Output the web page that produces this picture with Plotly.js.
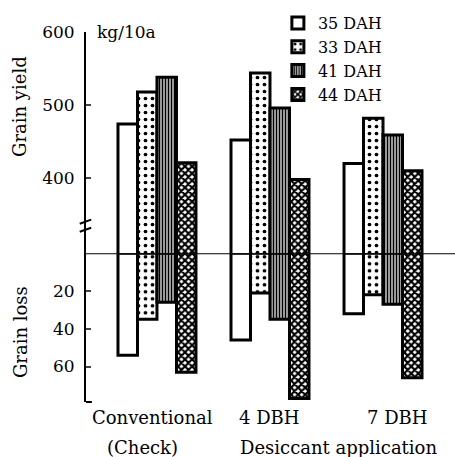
<!DOCTYPE html>
<html><head><meta charset="utf-8">
<script src="https://cdn.plot.ly/plotly-3.0.1.min.js"></script>
<style>html,body{margin:0;padding:0;background:#fff}</style>
</head><body><div id="chart" style="width:455px;height:457px"></div>
<script>
// ---- data ----
var groups = [0, 1, 2];
var groupLabels = ['Conventional', '4 DBH', '7 DBH'];
var seriesNames = ['35 DAH', '33 DAH', '41 DAH', '44 DAH'];
var yield35 = [474, 452, 420];
var yield33 = [518, 544, 482];
var yield41 = [538, 496, 459];
var yield44 = [421, 398, 410];
var loss35 = [54, 46, 32];
var loss33 = [35, 21, 22];
var loss41 = [26, 35, 27];
var loss44 = [63, 77, 66];
var yieldTicks = [400, 500, 600];
var lossTicks = [20, 40, 60];

var yields = [yield35, yield33, yield41, yield44];
var losses = [loss35, loss33, loss41, loss44];

var patterns = [
  {shape: '', fillmode: 'replace'},
  {shape: '.', fgcolor: '#000', bgcolor: '#fff', size: 7, solidity: 0.22, fillmode: 'replace'},
  {shape: '|', fgcolor: '#000', bgcolor: '#fff', size: 3, solidity: 0.6, fillmode: 'replace'},
  {shape: 'x', fgcolor: '#000', bgcolor: '#fff', size: 5, solidity: 0.65, fillmode: 'replace'}
];

var traces = [];
for (var i = 0; i < 4; i++) {
  traces.push({
    type: 'bar', x: groups, y: yields[i], name: seriesNames[i],
    xaxis: 'x', yaxis: 'y', legendgroup: 's' + i, showlegend: true,
    marker: {color: '#fff', line: {color: '#000', width: 3}, pattern: patterns[i]},
    hoverinfo: 'skip'
  });
}
for (var j = 0; j < 4; j++) {
  traces.push({
    type: 'bar', x: groups, y: losses[j], name: seriesNames[j],
    xaxis: 'x', yaxis: 'y2', legendgroup: 's' + j, showlegend: false,
    marker: {color: '#fff', line: {color: '#000', width: 3}, pattern: patterns[j]},
    hoverinfo: 'skip'
  });
}

var F = 'DejaVu Serif';
var lowerFrac = 0.402;

var annotations = [
  {text: 'kg/10a', xref: 'paper', yref: 'y', x: 0.025, y: 600, xanchor: 'left', yanchor: 'middle', showarrow: false, font: {family: F, size: 17, color: '#000'}},
  {text: 'Grain yield', xref: 'paper', yref: 'paper', x: -0.179, y: 0.80, textangle: -90, xanchor: 'center', yanchor: 'middle', showarrow: false, font: {family: F, size: 18, color: '#000'}},
  {text: 'Grain loss', xref: 'paper', yref: 'paper', x: -0.179, y: 0.189, textangle: -90, xanchor: 'center', yanchor: 'middle', showarrow: false, font: {family: F, size: 18, color: '#000'}},
  {text: groupLabels[0], xref: 'x', yref: 'paper', x: -0.04, y: -0.043, xanchor: 'center', yanchor: 'middle', showarrow: false, font: {family: F, size: 18, color: '#000'}},
  {text: groupLabels[1], xref: 'x', yref: 'paper', x: 1.0, y: -0.043, xanchor: 'center', yanchor: 'middle', showarrow: false, font: {family: F, size: 18, color: '#000'}},
  {text: groupLabels[2], xref: 'x', yref: 'paper', x: 2.13, y: -0.043, xanchor: 'center', yanchor: 'middle', showarrow: false, font: {family: F, size: 18, color: '#000'}},
  {text: '(Check)', xref: 'x', yref: 'paper', x: -0.13, y: -0.124, xanchor: 'center', yanchor: 'middle', showarrow: false, font: {family: F, size: 18, color: '#000'}},
  {text: 'Desiccant application', xref: 'x', yref: 'paper', x: 1.61, y: -0.124, xanchor: 'center', yanchor: 'middle', showarrow: false, font: {family: F, size: 18, color: '#000'}}
];

var shapes = [
  {type: 'line', xref: 'paper', yref: 'y2', x0: 0, x1: 1, y0: 0, y1: 0, line: {color: '#000', width: 2}},
  {type: 'line', xref: 'paper', yref: 'y', x0: -0.017, x1: 0.014, y0: 337.5, y1: 343, line: {color: '#000', width: 2}},
  {type: 'line', xref: 'paper', yref: 'y', x0: -0.017, x1: 0.014, y0: 326.5, y1: 332, line: {color: '#000', width: 2}},
  {type: 'line', xref: 'paper', yref: 'paper', x0: 0, x1: 0.016, y0: 0, y1: 0, line: {color: '#000', width: 2}}
];

var layout = {
  width: 455, height: 457,
  margin: {l: 86, r: 0, t: 32, b: 55},
  paper_bgcolor: '#fff', plot_bgcolor: 'rgba(0,0,0,0)',
  font: {family: F, color: '#000'},
  barmode: 'group', bargap: 0.31, bargroupgap: 0,
  showlegend: true,
  legend: {x: 0.52, y: 1.07, xanchor: 'left', yanchor: 'top', bgcolor: 'rgba(0,0,0,0)',
           font: {family: F, size: 16, color: '#000'}, tracegroupgap: 0, traceorder: 'normal'},
  xaxis: {range: [-0.628, 2.637], showticklabels: false, ticks: '', showgrid: false, zeroline: false, showline: false, fixedrange: true},
  yaxis: {domain: [lowerFrac, 1], range: [297, 600], tickvals: yieldTicks, ticks: 'inside', ticklen: 5, tickwidth: 2,
          showline: true, linewidth: 2, linecolor: '#000', showgrid: false, zeroline: false,
          tickfont: {family: F, size: 17, color: '#000'}, ticklabelstandoff: 6},
  yaxis2: {domain: [0, lowerFrac], range: [78.8, 0], tickvals: lossTicks, ticks: 'inside', ticklen: 5, tickwidth: 2,
           showline: true, linewidth: 2, linecolor: '#000', showgrid: false, zeroline: false,
           tickfont: {family: F, size: 17, color: '#000'}, ticklabelstandoff: 6},
  annotations: annotations,
  shapes: shapes
};

Plotly.newPlot('chart', traces, layout, {displayModeBar: false, staticPlot: true});
</script></body></html>
